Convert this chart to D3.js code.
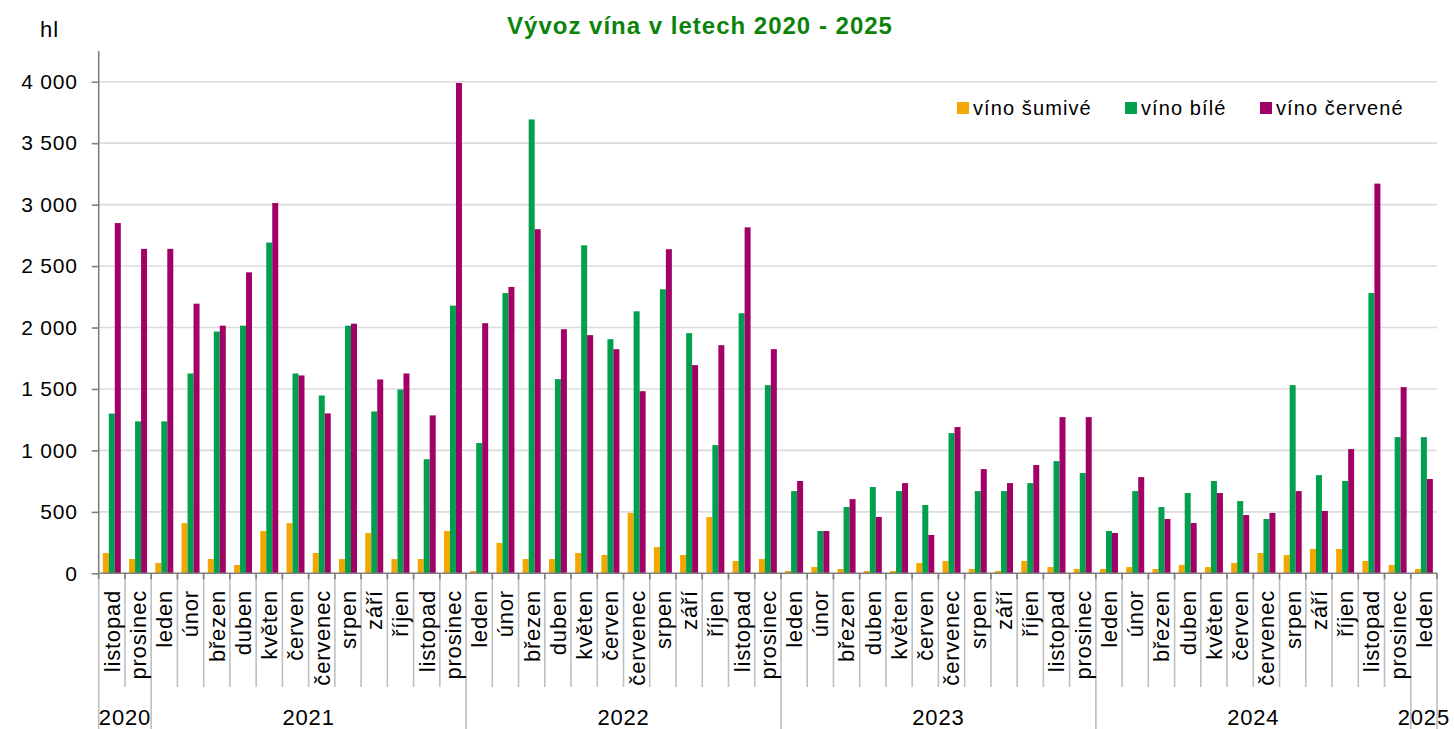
<!DOCTYPE html>
<html>
<head>
<meta charset="utf-8">
<script src="https://cdn.jsdelivr.net/npm/d3@7"></script>
<style>
body { margin: 0; background: #fff; }
text { font-family: "Liberation Sans", Arial, sans-serif; fill: #000; }
</style>
</head>
<body>
<svg class="chart_svg" width="1454" height="729"></svg>
<script>
// categories
var months = ["listopad", "prosinec",
  "leden", "únor", "březen", "duben", "květen", "červen", "červenec", "srpen", "září", "říjen", "listopad", "prosinec",
  "leden", "únor", "březen", "duben", "květen", "červen", "červenec", "srpen", "září", "říjen", "listopad", "prosinec",
  "leden", "únor", "březen", "duben", "květen", "červen", "červenec", "srpen", "září", "říjen", "listopad", "prosinec",
  "leden", "únor", "březen", "duben", "květen", "červen", "červenec", "srpen", "září", "říjen", "listopad", "prosinec",
  "leden"];
var years = ["2020", "2021", "2022", "2023", "2024", "2025"];
var monthsPerYear = [2, 12, 12, 12, 12, 1];

// series (hl)
var seriesNames = ["víno šumivé", "víno bílé", "víno červené"];
var seriesColours = ["#f2a800", "#00a04e", "#a10066"];

var sumive = [165, 116,
  84, 408, 116, 68, 344, 408, 165, 116, 327, 116, 116, 344,
  19, 247, 116, 116, 165, 149, 491, 214, 149, 458, 100, 116,
  19, 51, 35, 19, 19, 84, 100, 35, 19, 100, 51, 35,
  35, 51, 35, 68, 51, 84, 165, 149, 198, 198, 100, 68,
  35];
var bile = [1300, 1236,
  1236, 1626, 1967, 2015, 2691, 1626, 1447, 2015, 1317, 1496, 928, 2178,
  1060, 2280, 3693, 1580, 2669, 1905, 2132, 2311, 1954, 1043, 2116, 1531,
  669, 344, 539, 702, 669, 556, 1141, 669, 669, 734, 913, 816,
  344, 669, 539, 653, 751, 588, 442, 1531, 799, 751, 2281, 1108,
  1108];
var cervene = [2850, 2640,
  2640, 2194, 2015, 2449, 3013, 1610, 1301, 2031, 1577, 1626, 1285, 3990,
  2035, 2330, 2800, 1986, 1938, 1824, 1482, 2637, 1694, 1856, 2815, 1824,
  751, 344, 604, 458, 734, 312, 1190, 848, 734, 881, 1271, 1271,
  328, 783, 442, 409, 653, 474, 491, 669, 507, 1011, 3171, 1515,
  767];

var yTicks = [0, 500, 1000, 1500, 2000, 2500, 3000, 3500, 4000];

var svg = d3.select(".chart_svg"),
    plotLeft = 98.7, plotRight = 1437,
    plotTop = 51, zero = 573.3,
    monthBottom = 687, yearBottom = 729;

var data = months.map(function(m, i) {
  return {i: i, month: m, values: [sumive[i], bile[i], cervene[i]]};
});

var x0 = d3.scaleBand()
  .domain(d3.range(months.length))
  .range([plotLeft, plotRight])
  .padding(0);

var x1 = d3.scaleBand()
  .domain(d3.range(seriesNames.length))
  .range([0, x0.bandwidth()])
  .paddingInner(0)
  .paddingOuter(0.69);

var y = d3.scaleLinear().domain([0, 4250]).range([zero, plotTop]);

var fmt = d3.formatLocale({decimal: ",", thousands: "\u00a0", grouping: [3], currency: ["", " Kč"]}).format(",d");

// gridlines
svg.append("g").attr("class", "grid")
  .selectAll("line").data(yTicks.filter(function(d) { return d > 0; }))
  .enter().append("line")
  .attr("x1", plotLeft).attr("x2", plotRight)
  .attr("y1", function(d) { return y(d); })
  .attr("y2", function(d) { return y(d); })
  .attr("stroke", "#dcdcdc")
  .attr("stroke-width", 1.6);

// bars
var groups = svg.append("g").attr("class", "bars")
  .selectAll("g").data(data)
  .enter().append("g")
  .attr("transform", function(d) { return "translate(" + x0(d.i) + ",0)"; });

groups.selectAll("rect")
  .data(function(d) { return d.values.map(function(v, s) { return {s: s, v: v}; }); })
  .enter().append("rect")
  .attr("x", function(d) { return x1(d.s); })
  .attr("width", x1.bandwidth())
  .attr("y", function(d) { return y(d.v); })
  .attr("height", function(d) { return zero - y(d.v); })
  .attr("fill", function(d) { return seriesColours[d.s]; });

// y axis
var yAxis = svg.append("g")
  .attr("class", "axis axis--y")
  .attr("transform", "translate(" + plotLeft + ",0)")
  .call(d3.axisLeft(y).tickValues(yTicks).tickSize(7).tickPadding(14).tickFormat(fmt));
yAxis.select(".domain").attr("d", "M0," + plotTop + "V" + zero).attr("stroke", "#808080").attr("stroke-width", 1.6);
yAxis.selectAll(".tick line").attr("stroke", "#808080").attr("stroke-width", 1.6);
yAxis.selectAll(".tick text")
  .style("font-size", "21px")
  .style("letter-spacing", "0.8px")
  .attr("fill", "#000");

// x axis line and category separators
var bounds = d3.range(months.length + 1).map(function(i) {
  return i < months.length ? x0(i) : plotRight;
});
var yearStarts = [0];
monthsPerYear.forEach(function(n, k) { yearStarts.push(yearStarts[k] + n); });

var xAxis = svg.append("g").attr("class", "axis axis--x");
xAxis.selectAll(".sep").data(bounds)
  .enter().append("line")
  .attr("class", "sep")
  .attr("x1", function(d) { return d; })
  .attr("x2", function(d) { return d; })
  .attr("y1", zero)
  .attr("y2", function(d, i) { return yearStarts.indexOf(i) >= 0 ? yearBottom : monthBottom; })
  .attr("stroke", "#bfbfbf")
  .attr("stroke-width", 1.6);
xAxis.selectAll(".tick").data(bounds)
  .enter().append("line")
  .attr("class", "tick")
  .attr("x1", function(d) { return d; })
  .attr("x2", function(d) { return d; })
  .attr("y1", zero)
  .attr("y2", zero + 6)
  .attr("stroke", "#808080")
  .attr("stroke-width", 1.6);
xAxis.append("line")
  .attr("x1", plotLeft).attr("x2", plotRight)
  .attr("y1", zero).attr("y2", zero)
  .attr("stroke", "#808080")
  .attr("stroke-width", 1.6);

// month labels
xAxis.selectAll(".month").data(data)
  .enter().append("text")
  .attr("class", "month")
  .attr("transform", function(d) { return "translate(" + (x0(d.i) + x0.bandwidth() / 2) + ",590) rotate(-90)"; })
  .attr("dy", "0.36em")
  .attr("text-anchor", "end")
  .style("font-size", "22px")
  .style("letter-spacing", "0.8px")
  .text(function(d) { return d.month; });

// year labels
xAxis.selectAll(".year").data(years)
  .enter().append("text")
  .attr("class", "year")
  .attr("x", function(d, k) { return (bounds[yearStarts[k]] + bounds[yearStarts[k + 1]]) / 2; })
  .attr("y", 725)
  .attr("text-anchor", "middle")
  .style("font-size", "22px")
  .style("letter-spacing", "0.8px")
  .text(function(d) { return d; });

// title and unit
svg.append("text")
  .attr("x", 700).attr("y", 34)
  .attr("text-anchor", "middle")
  .style("font-size", "24px")
  .style("font-weight", "bold")
  .style("letter-spacing", "1px")
  .style("fill", "#0b830b")
  .text("Vývoz vína v letech 2020  - 2025");

svg.append("text")
  .attr("x", 40).attr("y", 37)
  .style("font-size", "22px")
  .style("letter-spacing", "1px")
  .text("hl");

// legend
var legendX = [957, 1125, 1260];
var legend = svg.append("g").attr("class", "legend")
  .selectAll("g").data(seriesNames)
  .enter().append("g")
  .attr("transform", function(d, s) { return "translate(" + legendX[s] + ",102)"; });
legend.append("rect")
  .attr("width", 12).attr("height", 12)
  .attr("fill", function(d, s) { return seriesColours[s]; });
legend.append("text")
  .attr("x", 16).attr("y", 13)
  .style("font-size", "20px")
  .style("letter-spacing", "1.1px")
  .text(function(d) { return d; });
</script>
</body>
</html>
